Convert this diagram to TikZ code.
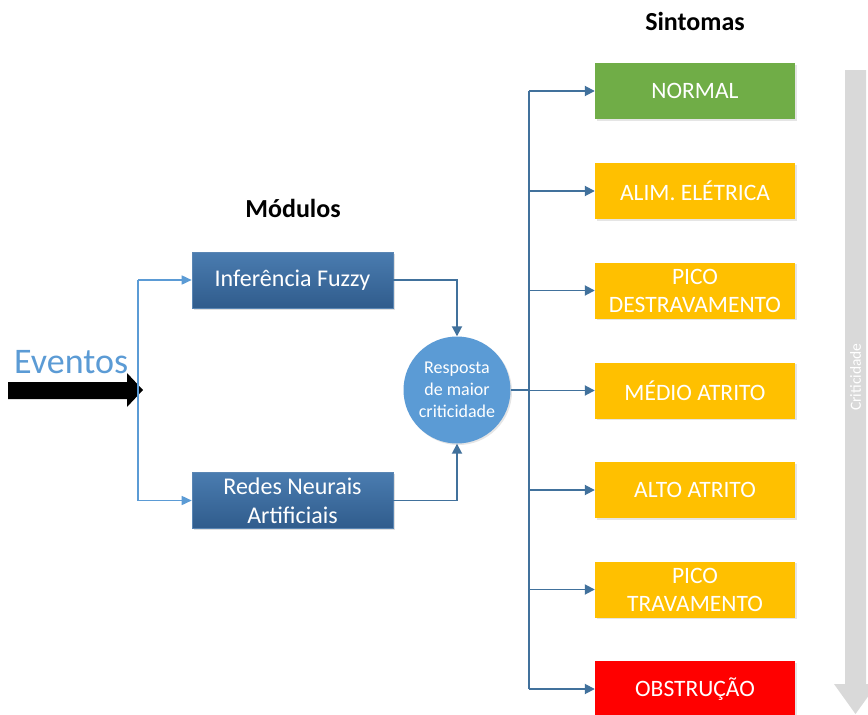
\documentclass[tikz,border=0pt]{standalone}
\usepackage{fontspec}
\setmainfont{Carlito}
\usetikzlibrary{arrows.meta,shadows}
\definecolor{modtop}{RGB}{74,124,176}
\definecolor{modbot}{RGB}{48,92,140}
\definecolor{modline}{RGB}{90,134,180}
\definecolor{circblue}{RGB}{91,155,213}
\definecolor{lightline}{RGB}{91,155,213}
\definecolor{darkline}{RGB}{65,113,156}
\definecolor{okgreen}{RGB}{112,173,71}
\definecolor{warnorange}{RGB}{255,192,0}
\definecolor{badred}{RGB}{255,0,0}
\definecolor{critgray}{RGB}{217,217,217}
\begin{document}
\begin{tikzpicture}[x=1pt,y=-1pt,
  modbox/.style={rectangle, minimum width=201pt, minimum height=56pt, inner sep=0pt,
    top color=modtop, bottom color=modbot, draw=modline, line width=0.6pt,
    text=white, align=center, font=\fontsize{24}{29}\selectfont,
    drop shadow={shadow xshift=1.5pt, shadow yshift=-1.5pt, opacity=0.25}},
  symbox/.style={rectangle, minimum width=200pt, minimum height=56pt, inner sep=0pt,
    text=white, align=center, font=\fontsize{23.5}{28}\selectfont,
    drop shadow={shadow xshift=1.5pt, shadow yshift=-1.5pt, opacity=0.2}},
  heading/.style={font=\bfseries\fontsize{26}{30}\selectfont, text=black},
  lightconn/.style={draw=lightline, line width=1.6pt, -{Triangle[length=10pt,width=9pt]}},
  darkconn/.style={draw=darkline, line width=1.8pt, -{Triangle[length=10pt,width=10pt]}},
  darkplain/.style={draw=darkline, line width=1.8pt}
]
\useasboundingbox (0,0) rectangle (868,715);
\fill[white] (0,0) rectangle (868,715);

% headings
\node[heading] (hmod) at (293,208) {Módulos};
\node[heading] (hsin) at (695,21) {Sintomas};

% criticidade arrow
\fill[critgray] (845,70) -- (866,70) -- (866,684) -- (877,684) -- (855.5,714) -- (834,684) -- (845,684) -- cycle;
\node[rotate=90, text=white, font=\fontsize{15.5}{18}\selectfont] (crit) at (855.5,377) {Criticidade};

% eventos
\node[text=circblue, font=\fontsize{36}{40}\selectfont, anchor=base west, inner sep=0pt] (ev) at (14,373) {Eventos};
\coordinate (split) at (138,390);
\fill[black] (8,382) -- (127,382) -- (127,373) -- (143,390) -- (127,407) -- (127,399) -- (8,399) -- cycle;

% modules
\node[modbox] (fuzzy) at (292.5,280) {Inferência Fuzzy};
\node[modbox] (rna) at (292.5,500.5) {Redes Neurais\\Artificiais};

\draw[draw=lightline, line width=1.6pt] (split |- fuzzy.west) -- (split |- rna.west);
\draw[lightconn] (split |- fuzzy.west) -- (fuzzy.west);
\draw[lightconn] (split |- rna.west) -- (rna.west);

% response circle
\node[circle, fill=circblue, minimum size=107pt, inner sep=0pt, text=white, align=center,
  font=\fontsize{18}{22}\selectfont,
  drop shadow={shadow xshift=1.5pt, shadow yshift=-1.5pt, opacity=0.2}] (resp) at (457,390) {Resposta\\de maior\\criticidade};

\draw[darkconn] (fuzzy.east) -| (resp.north);
\draw[darkconn] (rna.east) -| (resp.south);

% symptoms
\node[symbox, fill=okgreen] (s1) at (695,91) {NORMAL};
\node[symbox, fill=warnorange] (s2) at (695,191) {ALIM. ELÉTRICA};
\node[symbox, fill=warnorange] (s3) at (695,290.5) {PICO\\DESTRAVAMENTO};
\node[symbox, fill=warnorange] (s4) at (695,390.5) {MÉDIO ATRITO};
\node[symbox, fill=warnorange] (s5) at (695,490) {ALTO ATRITO};
\node[symbox, fill=warnorange] (s6) at (695,589.5) {PICO\\TRAVAMENTO};
\node[symbox, fill=badred] (s7) at (695,689) {OBSTRUÇÃO};

\coordinate (bus) at (529,390);
\draw[darkplain] (resp.east) -- (bus);
\draw[darkplain] (bus |- s1.west) -- (bus |- s7.west);
\foreach \s in {s1,s2,s3,s4,s5,s6,s7}{
  \draw[darkconn] (bus |- \s.west) -- (\s.west);
}
\end{tikzpicture}
\end{document}
